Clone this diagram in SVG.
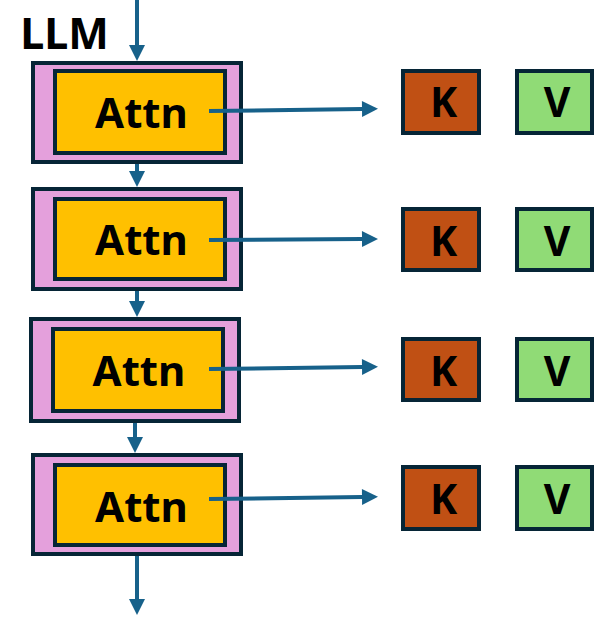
<svg xmlns="http://www.w3.org/2000/svg" width="595" height="619" viewBox="0 0 595 619">
<style>
.outer{fill:#E4A0DC;stroke:#062536;stroke-width:4}
.inner{fill:#FFC000;stroke:#062536;stroke-width:4}
.k{fill:#C05014;stroke:#062536;stroke-width:4}
.v{fill:#90DB76;stroke:#062536;stroke-width:4}
.lbl{font-family:"Noto Sans","Open Sans",sans-serif;font-weight:bold;fill:#000;text-anchor:middle}
.conn line{stroke:#17618A;stroke-width:4;marker-end:url(#ah)}
</style>
<defs>
<marker id="ah" markerUnits="userSpaceOnUse" markerWidth="16" markerHeight="16" refX="0" refY="8" orient="auto" overflow="visible">
<path d="M0,0 L16,8 L0,16 z" fill="#17618A"/>
</marker>
</defs>
<rect width="595" height="619" fill="#fff"/>
<text class="lbl" x="64.5" y="49" font-size="43">LLM</text>
<g id="block1">
<rect class="outer" x="33" y="63" width="208" height="99"/>
<rect class="inner" x="55" y="71" width="170" height="82"/>
<text class="lbl" x="141.5" y="128" font-size="42">Attn</text>
</g>
<g id="block2">
<rect class="outer" x="33" y="189" width="208" height="100"/>
<rect class="inner" x="55" y="199" width="170" height="80"/>
<text class="lbl" x="141.5" y="255" font-size="42">Attn</text>
</g>
<g id="block3">
<rect class="outer" x="31" y="319" width="208" height="102"/>
<rect class="inner" x="53" y="329" width="170" height="82"/>
<text class="lbl" x="139" y="386" font-size="42">Attn</text>
</g>
<g id="block4">
<rect class="outer" x="33" y="455" width="208" height="99"/>
<rect class="inner" x="55" y="465" width="170" height="80"/>
<text class="lbl" x="141.5" y="522" font-size="42">Attn</text>
</g>
<g id="k1"><rect class="k" x="403" y="71" width="76" height="62"/><text class="lbl" x="443.5" y="117" font-size="41">K</text></g>
<g id="v1"><rect class="v" x="517" y="71" width="75" height="62"/><text class="lbl" x="557" y="117" font-size="41">V</text></g>
<g id="k2"><rect class="k" x="403" y="209" width="76" height="61"/><text class="lbl" x="443.5" y="256" font-size="41">K</text></g>
<g id="v2"><rect class="v" x="517" y="209" width="75" height="61"/><text class="lbl" x="557" y="256" font-size="41">V</text></g>
<g id="k3"><rect class="k" x="403" y="339" width="76" height="61"/><text class="lbl" x="443.5" y="386" font-size="41">K</text></g>
<g id="v3"><rect class="v" x="517" y="339" width="75" height="61"/><text class="lbl" x="557" y="386" font-size="41">V</text></g>
<g id="k4"><rect class="k" x="403" y="467" width="76" height="62"/><text class="lbl" x="443.5" y="514" font-size="41">K</text></g>
<g id="v4"><rect class="v" x="517" y="467" width="75" height="62"/><text class="lbl" x="557" y="514" font-size="41">V</text></g>
<g id="connectors" class="conn">
<line x1="137" y1="0" x2="137" y2="45"/>
<line x1="137" y1="164" x2="137" y2="171"/>
<line x1="137" y1="291" x2="137" y2="301"/>
<line x1="135" y1="423" x2="135" y2="437"/>
<line x1="137" y1="556" x2="137" y2="599"/>
<line x1="209" y1="111" x2="362" y2="109"/>
<line x1="209" y1="240" x2="362" y2="239"/>
<line x1="209" y1="369" x2="362" y2="367"/>
<line x1="209" y1="499" x2="362" y2="497"/>
</g>
</svg>
